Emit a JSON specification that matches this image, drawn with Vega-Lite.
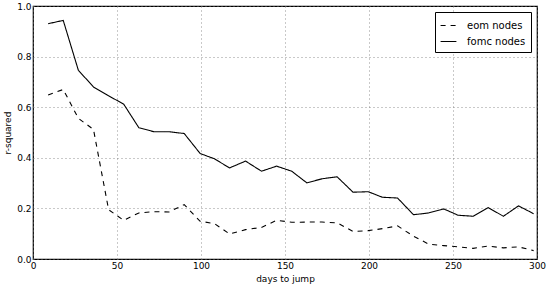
{
  "$schema": "https://vega.github.io/schema/vega-lite/v6.json",
  "width": 504,
  "height": 253,
  "autosize": {"type": "none"},
  "padding": {"left": 33, "top": 6, "right": 13, "bottom": 28},
  "background": "white",
  "config": {
    "font": "DejaVu Sans",
    "view": {"stroke": "black", "strokeWidth": 1.2}
  },
  "data": {
    "values": [
      {"day": 9, "value": 0.93, "series": "fomc nodes"},
      {"day": 18, "value": 0.943, "series": "fomc nodes"},
      {"day": 27, "value": 0.746, "series": "fomc nodes"},
      {"day": 36, "value": 0.68, "series": "fomc nodes"},
      {"day": 45, "value": 0.645, "series": "fomc nodes"},
      {"day": 54, "value": 0.612, "series": "fomc nodes"},
      {"day": 63, "value": 0.519, "series": "fomc nodes"},
      {"day": 72, "value": 0.503, "series": "fomc nodes"},
      {"day": 81, "value": 0.503, "series": "fomc nodes"},
      {"day": 90, "value": 0.496, "series": "fomc nodes"},
      {"day": 99.5, "value": 0.417, "series": "fomc nodes"},
      {"day": 108, "value": 0.396, "series": "fomc nodes"},
      {"day": 117, "value": 0.36, "series": "fomc nodes"},
      {"day": 126.5, "value": 0.387, "series": "fomc nodes"},
      {"day": 136, "value": 0.347, "series": "fomc nodes"},
      {"day": 145, "value": 0.367, "series": "fomc nodes"},
      {"day": 154, "value": 0.347, "series": "fomc nodes"},
      {"day": 163, "value": 0.301, "series": "fomc nodes"},
      {"day": 172, "value": 0.317, "series": "fomc nodes"},
      {"day": 181, "value": 0.325, "series": "fomc nodes"},
      {"day": 190.5, "value": 0.264, "series": "fomc nodes"},
      {"day": 199.5, "value": 0.266, "series": "fomc nodes"},
      {"day": 208, "value": 0.244, "series": "fomc nodes"},
      {"day": 217, "value": 0.241, "series": "fomc nodes"},
      {"day": 226.5, "value": 0.175, "series": "fomc nodes"},
      {"day": 235.5, "value": 0.182, "series": "fomc nodes"},
      {"day": 244.5, "value": 0.198, "series": "fomc nodes"},
      {"day": 253, "value": 0.173, "series": "fomc nodes"},
      {"day": 262, "value": 0.169, "series": "fomc nodes"},
      {"day": 271, "value": 0.203, "series": "fomc nodes"},
      {"day": 280, "value": 0.169, "series": "fomc nodes"},
      {"day": 289, "value": 0.21, "series": "fomc nodes"},
      {"day": 298, "value": 0.179, "series": "fomc nodes"},
      {"day": 9, "value": 0.648, "series": "eom nodes"},
      {"day": 18, "value": 0.67, "series": "eom nodes"},
      {"day": 27, "value": 0.556, "series": "eom nodes"},
      {"day": 36, "value": 0.512, "series": "eom nodes"},
      {"day": 45, "value": 0.195, "series": "eom nodes"},
      {"day": 54, "value": 0.153, "series": "eom nodes"},
      {"day": 63, "value": 0.182, "series": "eom nodes"},
      {"day": 72, "value": 0.187, "series": "eom nodes"},
      {"day": 81, "value": 0.186, "series": "eom nodes"},
      {"day": 90, "value": 0.215, "series": "eom nodes"},
      {"day": 99.5, "value": 0.149, "series": "eom nodes"},
      {"day": 108, "value": 0.14, "series": "eom nodes"},
      {"day": 117, "value": 0.099, "series": "eom nodes"},
      {"day": 126.5, "value": 0.116, "series": "eom nodes"},
      {"day": 136, "value": 0.125, "series": "eom nodes"},
      {"day": 145, "value": 0.153, "series": "eom nodes"},
      {"day": 154, "value": 0.145, "series": "eom nodes"},
      {"day": 163, "value": 0.146, "series": "eom nodes"},
      {"day": 172, "value": 0.146, "series": "eom nodes"},
      {"day": 181, "value": 0.143, "series": "eom nodes"},
      {"day": 190.5, "value": 0.109, "series": "eom nodes"},
      {"day": 199.5, "value": 0.112, "series": "eom nodes"},
      {"day": 208, "value": 0.12, "series": "eom nodes"},
      {"day": 217, "value": 0.131, "series": "eom nodes"},
      {"day": 226.5, "value": 0.09, "series": "eom nodes"},
      {"day": 235.5, "value": 0.059, "series": "eom nodes"},
      {"day": 244.5, "value": 0.053, "series": "eom nodes"},
      {"day": 253, "value": 0.048, "series": "eom nodes"},
      {"day": 262, "value": 0.042, "series": "eom nodes"},
      {"day": 271, "value": 0.051, "series": "eom nodes"},
      {"day": 280, "value": 0.044, "series": "eom nodes"},
      {"day": 289, "value": 0.048, "series": "eom nodes"},
      {"day": 298, "value": 0.033, "series": "eom nodes"}
    ]
  },
  "mark": {"type": "line", "color": "black", "strokeWidth": 1.1},
  "encoding": {
    "x": {
      "field": "day",
      "type": "quantitative",
      "scale": {"domain": [0, 300], "nice": false, "zero": false},
      "axis": {
        "title": "days to jump",
        "titleFont": "DejaVu Sans",
        "titleFontSize": 9,
        "titleFontWeight": "normal",
        "titleColor": "black",
        "titlePadding": 4,
        "values": [0, 50, 100, 150, 200, 250, 300],
        "labelFontSize": 9,
        "labelColor": "black",
        "labelPadding": 2,
        "labelOverlap": false,
        "labelFlush": false,
        "domain": false,
        "ticks": false,
        "grid": true,
        "gridColor": "#777777",
        "gridDash": [1, 3],
        "gridWidth": 0.8
      }
    },
    "y": {
      "field": "value",
      "type": "quantitative",
      "scale": {"domain": [0, 1], "nice": false},
      "axis": {
        "title": "r-squared",
        "titleFont": "DejaVu Sans",
        "titleFontSize": 9,
        "titleFontWeight": "normal",
        "titleColor": "black",
        "titlePadding": 4,
        "values": [0, 0.2, 0.4, 0.6, 0.8, 1.0],
        "format": ".1f",
        "labelFontSize": 9,
        "labelColor": "black",
        "labelPadding": 2,
        "labelFlush": false,
        "domain": false,
        "ticks": false,
        "grid": true,
        "gridColor": "#777777",
        "gridDash": [1, 3],
        "gridWidth": 0.8
      }
    },
    "strokeDash": {
      "field": "series",
      "type": "nominal",
      "scale": {"domain": ["eom nodes", "fomc nodes"], "range": [[5, 5], [1, 0]]},
      "legend": {
        "title": null,
        "orient": "top-right",
        "offset": 6,
        "strokeColor": "black",
        "fillColor": "white",
        "padding": 5,
        "symbolType": "stroke",
        "symbolStrokeColor": "black",
        "symbolStrokeWidth": 1.1,
        "symbolSize": 250,
        "labelFontSize": 10,
        "labelColor": "black",
        "labelOffset": 10,
        "rowPadding": 2,
        "cornerRadius": 0
      }
    }
  }
}
